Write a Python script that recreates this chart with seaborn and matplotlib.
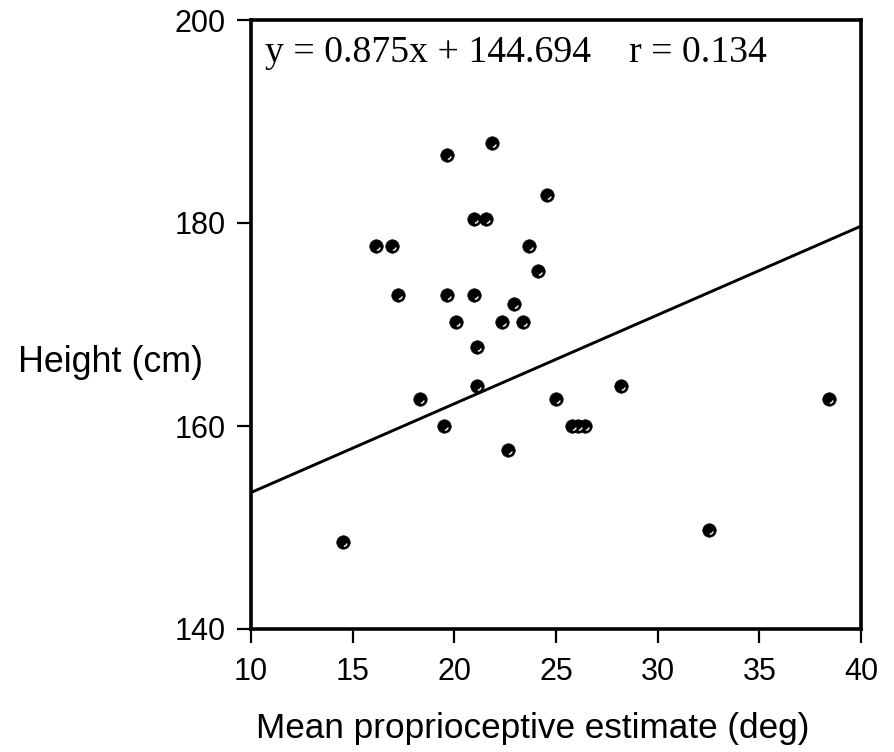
import numpy as np
import pandas as pd
import matplotlib
matplotlib.use("Agg")
import matplotlib.pyplot as plt
import seaborn as sns
from matplotlib.path import Path
from matplotlib.markers import MarkerStyle

# ---- data ----
proprioceptive_deg = [14.50, 16.16, 16.92, 17.22, 18.30, 19.49, 19.63, 19.63, 20.08,
                      20.98, 20.98, 21.12, 21.12, 21.56, 21.87, 22.33, 22.63, 22.94,
                      23.38, 23.67, 24.13, 24.57, 25.02, 25.77, 26.10, 26.43, 28.18,
                      32.54, 38.42]
height_cm = [148.6, 177.7, 177.7, 172.9, 162.7, 160.0, 186.7, 172.9, 170.2,
             180.4, 172.9, 167.8, 163.9, 180.4, 187.9, 170.2, 157.6, 172.0,
             170.2, 177.7, 175.3, 182.8, 162.7, 160.0, 160.0, 160.0, 163.9,
             149.8, 162.7]
slope = 0.875
intercept = 144.694
r_value = 0.134
x_ticks = [10, 15, 20, 25, 30, 35, 40]
y_ticks = [140, 160, 180, 200]
x_label = "Mean proprioceptive estimate (deg)"
y_label = "Height (cm)"

df = pd.DataFrame({"x": proprioceptive_deg, "y": height_cm})

sns.set_theme(style="white")
plt.rcParams["font.family"] = ["Liberation Sans", "DejaVu Sans"]

fig = plt.figure(figsize=(8.94, 7.52), dpi=100)
ax = fig.add_axes([251 / 894, 1 - 629 / 752, 610 / 894, 609 / 752])

ax.set_xlim(x_ticks[0], x_ticks[-1])
ax.set_ylim(y_ticks[0], y_ticks[-1])

# regression line over the full x range
xl = np.array(ax.get_xlim())
line_df = pd.DataFrame({"x": xl, "y": slope * xl + intercept})
sns.lineplot(data=line_df, x="x", y="y", color="black", linewidth=2.1, ax=ax, zorder=2)

# points
sns.scatterplot(data=df, x="x", y="y", color="black", s=95, edgecolor="black",
                linewidth=0.4, ax=ax, zorder=3)

# small white highlight on each marker
theta = np.linspace(np.radians(-85), np.radians(-15), 14)
verts = [(1.0, 1.0)] + [(0.55 * np.cos(t), 0.55 * np.sin(t)) for t in theta]
codes = [Path.MOVETO, Path.MOVETO] + [Path.LINETO] * (len(theta) - 1)
hl = MarkerStyle(Path(verts, codes))
ax.plot(df["x"], df["y"], linestyle="none", marker=hl, markersize=9.8,
        markerfacecolor="none", markeredgecolor="white", markeredgewidth=1.0, zorder=4)

# axes styling
for s in ax.spines.values():
    s.set_color("black")
    s.set_linewidth(2.6)
    s.set_visible(True)

ax.set_xticks(x_ticks)
ax.set_yticks(y_ticks)
ax.tick_params(axis="both", direction="out", length=10, width=1.6, color="black",
               labelsize=22, labelcolor="black")
ax.tick_params(axis="y", pad=8)
ax.tick_params(axis="x", pad=10)
ax.xaxis.set_ticks_position("bottom")
ax.yaxis.set_ticks_position("left")
ax.grid(False)

ax.set_xlabel(x_label, fontsize=25.3, color="black")
ax.xaxis.set_label_coords(0.461, -0.179)
ax.xaxis.label.set_va("baseline")
ax.set_ylabel(y_label, fontsize=25.8, color="black", rotation=0)
ax.yaxis.set_label_coords(-0.0787, 0.422)
ax.yaxis.label.set_ha("right")
ax.yaxis.label.set_va("baseline")

ax.text(0.023, 0.931, f"y = {slope:.3f}x + {intercept:.3f}    r = {r_value:.3f}",
        transform=ax.transAxes, fontsize=27.2, family=["Liberation Serif", "DejaVu Serif"],
        ha="left", va="baseline", color="black")

fig.savefig("out.png", dpi=100, facecolor="white")
